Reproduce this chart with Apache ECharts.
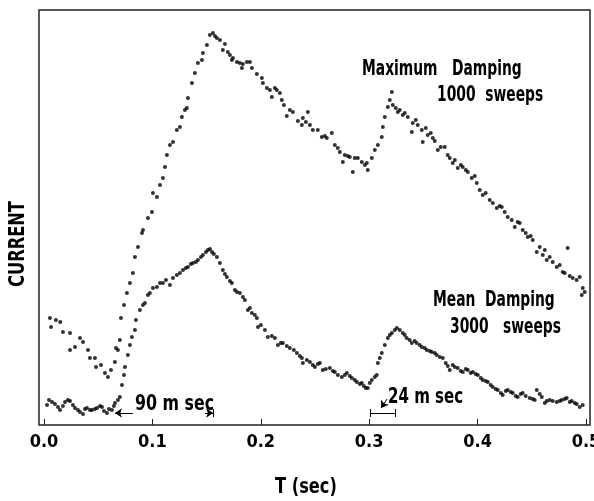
<!DOCTYPE html>
<html lang="en">
  <head>
    <meta charset="UTF-8" />
    <title>Current vs T</title>
    <script src="https://cdn.jsdelivr.net/npm/echarts@6.0.0/dist/echarts.min.js"></script>
  </head>
  <body style="margin:0">
    <div id="main" style="width: 594px; height: 501px"></div>
    <script type="text/javascript">
      // time in sec, current in arbitrary units
      const maxT = [0.0055,0.0065,0.011,0.015,0.0175,0.024,0.024,0.0286,0.0332,0.036,0.0406,0.0424,0.047,0.048,0.0526,0.0562,0.059,0.0618,0.0654,0.0664,0.0682,0.070,0.071,0.0738,0.0765,0.0793,0.082,0.0839,0.0867,0.0904,0.0913,0.0959,0.0996,0.1005,0.1042,0.107,0.1097,0.1116,0.1134,0.1162,0.119,0.1226,0.1254,0.1272,0.130,0.1318,0.1328,0.1365,0.1392,0.142,0.1457,0.1466,0.1503,0.153,0.1558,0.1577,0.1595,0.1623,0.165,0.1669,0.1696,0.1715,0.1733,0.1743,0.178,0.1807,0.1826,0.1835,0.1872,0.19,0.1918,0.1964,0.201,0.2019,0.2056,0.2084,0.2102,0.213,0.2148,0.2176,0.2194,0.2213,0.224,0.2268,0.2296,0.2342,0.2379,0.2388,0.2416,0.2434,0.2453,0.248,0.2526,0.2563,0.2591,0.2609,0.2655,0.2683,0.271,0.2729,0.2757,0.2775,0.2803,0.2821,0.2849,0.2867,0.2895,0.2932,0.296,0.2978,0.2987,0.3024,0.3052,0.308,0.3116,0.3126,0.3144,0.3172,0.319,0.3209,0.3218,0.3245,0.3264,0.3282,0.331,0.3328,0.3356,0.3393,0.3402,0.343,0.3448,0.3485,0.3494,0.3522,0.354,0.3568,0.3587,0.3605,0.3633,0.366,0.3697,0.3725,0.3743,0.3771,0.379,0.3817,0.3845,0.3863,0.3891,0.391,0.3946,0.3974,0.3992,0.402,0.4048,0.4075,0.4112,0.414,0.4177,0.4204,0.4223,0.425,0.4278,0.4315,0.4343,0.437,0.4389,0.4416,0.4444,0.4463,0.449,0.4509,0.4546,0.4573,0.4601,0.462,0.4638,0.4665,0.4693,0.473,0.4758,0.4785,0.4804,0.4831,0.485,0.4878,0.4914,0.4942,0.4961,0.497,0.4988];
      const maxCurrent = [107,98,105,103,93,92,75,78,87,83,75,67,67,58,60,52,48,55,63,77,75,85,107,120,132,142,152,168,178,192,195,207,213,232,228,240,247,258,270,280,283,295,298,308,315,317,327,342,352,362,365,372,380,390,392,389,387,385,375,381,373,370,365,367,363,362,357,361,363,363,357,351,347,342,337,335,328,337,335,332,325,320,309,315,313,304,300,307,303,313,300,295,295,288,289,287,292,280,277,273,263,270,269,268,253,267,267,263,260,262,255,267,275,280,288,298,308,318,325,333,320,317,313,315,310,312,308,293,302,305,300,295,283,297,290,292,287,284,275,278,278,270,267,262,265,257,260,258,255,253,247,249,242,235,230,232,225,222,217,219,218,213,208,205,198,203,202,195,192,188,189,185,173,178,170,175,165,168,163,158,160,153,152,177,149,147,145,148,130,137,133];

      const meanT = [0.0028,0.0046,0.0074,0.0101,0.0129,0.0148,0.0175,0.0194,0.0221,0.024,0.0267,0.0286,0.0313,0.0332,0.036,0.0378,0.0396,0.0424,0.0443,0.047,0.0489,0.0516,0.0535,0.0553,0.0581,0.0599,0.0627,0.0645,0.0655,0.0682,0.07,0.0719,0.0738,0.0747,0.0774,0.0793,0.0811,0.0839,0.0848,0.0885,0.0913,0.0931,0.0959,0.0977,0.1005,0.1042,0.107,0.1097,0.1125,0.1162,0.119,0.1226,0.1254,0.1282,0.1309,0.1328,0.1355,0.1374,0.1401,0.142,0.1448,0.1466,0.1494,0.1512,0.1531,0.155,0.1567,0.1595,0.1623,0.165,0.1669,0.1687,0.1715,0.1733,0.1761,0.178,0.1807,0.1835,0.1853,0.1881,0.19,0.1918,0.1945,0.1964,0.1974,0.2001,0.2038,0.2065,0.2102,0.213,0.2158,0.2185,0.2204,0.224,0.2268,0.2305,0.2333,0.236,0.2379,0.2388,0.2425,0.2453,0.248,0.2499,0.2526,0.2545,0.2572,0.26,0.2637,0.2665,0.2683,0.2711,0.2748,0.2775,0.2794,0.2821,0.284,0.2867,0.2886,0.2914,0.2932,0.295,0.2969,0.2987,0.3006,0.3024,0.3052,0.307,0.308,0.3098,0.3116,0.3144,0.3172,0.319,0.3209,0.3236,0.3255,0.3282,0.331,0.3328,0.3346,0.3373,0.3393,0.342,0.3438,0.3466,0.3485,0.3512,0.3531,0.3559,0.3577,0.3605,0.3623,0.3651,0.3679,0.3706,0.3725,0.3743,0.3771,0.379,0.3817,0.3845,0.3863,0.3891,0.391,0.3937,0.3956,0.3983,0.4002,0.403,0.4048,0.4075,0.4094,0.4121,0.414,0.4167,0.4186,0.4214,0.4232,0.426,0.4278,0.4306,0.4324,0.4352,0.437,0.4398,0.4416,0.4444,0.4481,0.4509,0.4527,0.4546,0.4573,0.4592,0.462,0.4638,0.4665,0.4693,0.473,0.4758,0.4776,0.4804,0.4822,0.485,0.4868,0.4896,0.4914,0.4942,0.497];
      const meanCurrent = [20,25,23,21,18,15,19,23,25,24,20,17,15,13,11,16,17,15,15,16,17,19,18,14,12,16,15,19,22,25,28,40,50,58,70,80,88,95,105,115,120,122,130,132,137,138,142,142,145,140,147,150,152,155,157,158,161,162,163,165,168,170,173,175,176,173,171,168,162,155,151,148,144,142,135,133,132,128,125,115,117,112,110,107,98,100,95,88,89,87,80,82,82,79,77,75,72,69,67,62,65,63,60,58,61,62,55,56,57,54,53,50,48,50,52,49,47,45,43,41,42,39,37,37,42,45,48,50,62,67,72,80,87,90,92,95,97,95,92,90,87,85,82,84,82,80,78,77,75,74,73,72,70,68,67,62,59,55,60,58,57,54,53,56,55,52,53,51,50,47,45,44,43,40,38,36,35,32,30,34,35,33,32,29,28,31,32,29,27,26,25,35,31,28,22,24,25,24,23,24,25,26,27,23,24,22,21,18,20];

      const tickValues = [0, 0.1, 0.2, 0.3, 0.4, 0.5];
      const tickLabels = ['0.0', '0.1', '0.2', '0.3', '0.4', '0.5'];

      const FONT = "'Liberation Sans Narrow', 'DejaVu Sans Condensed', sans-serif";
      const INK = '#000';

      const zip = (xs, ys) => xs.map((x, i) => [x, ys[i]]);

      const lineStyle = { color: INK, width: 1, type: 'solid' };
      const seg = (a, b, sym) => [
        { coord: a, symbol: sym[0] },
        { coord: b, symbol: sym[1] }
      ];

      // condensed bold text, squeezed to look like the original type
      const label = (text, x, y, sx) => ({
        type: 'text', x: x, y: y, scaleX: sx,
        style: { text: text, fill: INK, font: 'bold 22px ' + FONT, align: 'left', verticalAlign: 'top' }
      });

      let myChart = echarts.init(document.getElementById('main'));

      myChart.setOption({
        animation: false,
        backgroundColor: '#fff',
        grid: {
          left: 39, right: 4, top: 10, bottom: 76,
          outerBoundsMode: 'none',
          show: true, borderColor: '#222', borderWidth: 1.5
        },
        xAxis: {
          type: 'value',
          min: -0.0046,
          max: 0.5037,
          splitLine: { show: false },
          axisLine: { show: false },
          axisTick: {
            show: true, inside: true, length: 6,
            customValues: tickValues,
            lineStyle: { color: '#222', width: 1 }
          },
          axisLabel: {
            customValues: tickValues,
            formatter: (v) => tickLabels[tickValues.indexOf(Math.round(v * 10) / 10)],
            color: INK, fontFamily: FONT, fontWeight: 'bold', fontSize: 18, margin: 8
          }
        },
        yAxis: {
          type: 'value',
          min: 0,
          max: 415,
          axisLine: { show: false },
          axisTick: { show: false },
          axisLabel: { show: false },
          splitLine: { show: false }
        },
        graphic: [
          label('Maximum   Damping', 362, 58, 0.70),
          label('1000  sweeps', 437, 84, 0.70),
          label('Mean  Damping', 433, 289, 0.70),
          label('3000   sweeps', 450, 316, 0.70),
          label('90 m sec', 135, 393, 0.80),
          label('24 m sec', 388, 386, 0.76),
          label('T (sec)', 275, 476, 0.82),
          {
            type: 'text', x: 18, y: 244, rotation: Math.PI / 2, scaleX: 0.82,
            style: { text: 'CURRENT', fill: INK, font: 'bold 22px ' + FONT, align: 'center', verticalAlign: 'middle' }
          }
        ],
        series: [
          {
            name: 'Maximum Damping',
            type: 'scatter',
            data: zip(maxT, maxCurrent),
            symbolSize: 4,
            itemStyle: { color: INK }
          },
          {
            name: 'Mean Damping',
            type: 'scatter',
            data: zip(meanT, meanCurrent),
            symbolSize: 4,
            itemStyle: { color: INK },
            markLine: {
              silent: true,
              symbolSize: [7, 7],
              label: { show: false },
              lineStyle: lineStyle,
              data: [
                // 90 ms rise marker
                seg([0.082, 12], [0.0655, 12], ['none', 'arrow']),
                seg([0.1485, 12], [0.156, 12], ['none', 'arrow']),
                seg([0.156, 8], [0.156, 16], ['none', 'none']),
                // 24 ms rise marker
                seg([0.3006, 12], [0.3236, 12], ['none', 'none']),
                seg([0.3006, 8], [0.3006, 16], ['none', 'none']),
                seg([0.3236, 8], [0.3236, 16], ['none', 'none']),
                seg([0.3165, 26], [0.311, 17], ['none', 'arrow'])
              ]
            }
          }
        ]
      });
    </script>
  </body>
</html>
